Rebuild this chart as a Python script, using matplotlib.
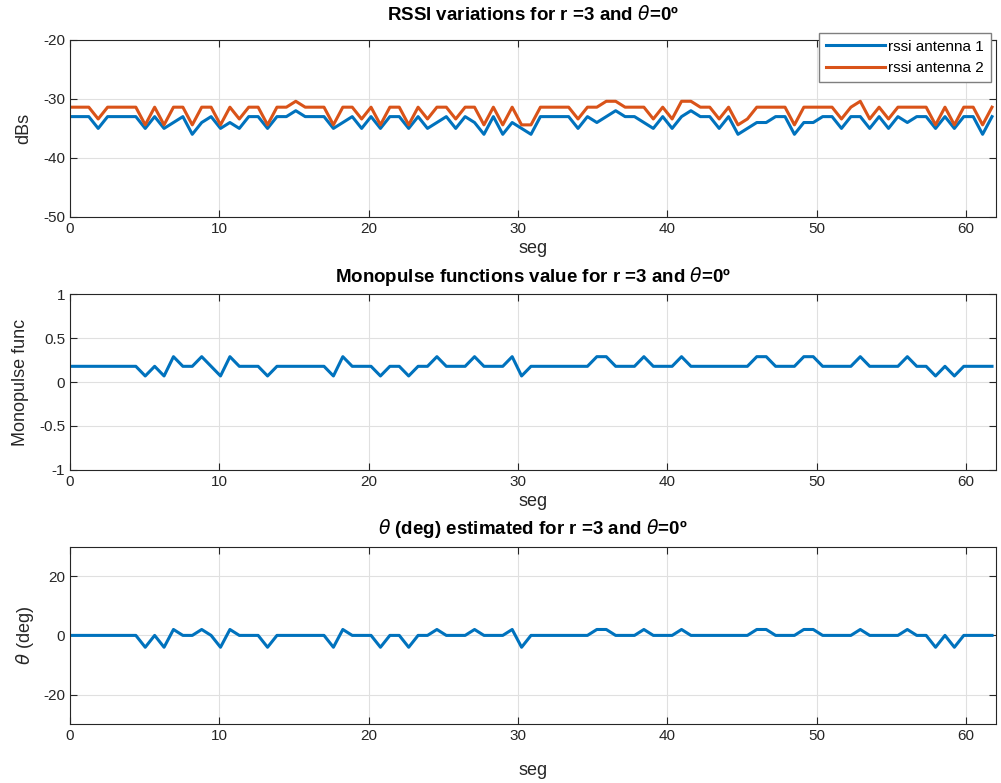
import numpy as np
import matplotlib
matplotlib.use('Agg')
import matplotlib.pyplot as plt
from matplotlib.ticker import FuncFormatter

plt.rcParams['font.family'] = ['Liberation Sans', 'DejaVu Sans']
plt.rcParams['mathtext.fontset'] = 'dejavusans'
plt.rcParams['axes.unicode_minus'] = False

# sample instants (one every 0.63 s)
seg = np.round(np.arange(99) * 0.63, 2)

rssi_ant1 = [-33, -33, -33, -35, -33, -33, -33, -33, -35, -33,
             -35, -34, -33, -36, -34, -33, -35, -34, -35, -33,
             -33, -35, -33, -33, -32, -33, -33, -33, -35, -34,
             -33, -35, -33, -35, -33, -33, -35, -33, -35, -34,
             -33, -35, -33, -34, -36, -33, -36, -34, -35, -36,
             -33, -33, -33, -33, -35, -33, -34, -33, -32, -33,
             -33, -34, -35, -33, -35, -33, -32, -33, -33, -35,
             -33, -36, -35, -34, -34, -33, -33, -36, -34, -34,
             -33, -33, -35, -33, -33, -35, -33, -35, -33, -34,
             -33, -33, -35, -33, -35, -33, -33, -36, -33]

rssi_ant2 = [-31.4, -31.4, -31.4, -33.4, -31.4, -31.4, -31.4, -31.4, -34.4, -31.4,
             -34.4, -31.4, -31.4, -34.4, -31.4, -31.4, -34.4, -31.4, -33.4, -31.4,
             -31.4, -34.4, -31.4, -31.4, -30.4, -31.4, -31.4, -31.4, -34.4, -31.4,
             -31.4, -33.4, -31.4, -34.4, -31.4, -31.4, -34.4, -31.4, -33.4, -31.4,
             -31.4, -33.4, -31.4, -31.4, -34.4, -31.4, -34.4, -31.4, -34.4, -34.4,
             -31.4, -31.4, -31.4, -31.4, -33.4, -31.4, -31.4, -30.4, -30.4, -31.4,
             -31.4, -31.4, -33.4, -31.4, -33.4, -30.4, -30.4, -31.4, -31.4, -33.4,
             -31.4, -34.4, -33.4, -31.4, -31.4, -31.4, -31.4, -34.4, -31.4, -31.4,
             -31.4, -31.4, -33.4, -31.4, -30.4, -33.4, -31.4, -33.4, -31.4, -31.4,
             -31.4, -31.4, -34.4, -31.4, -34.4, -31.4, -31.4, -34.4, -31.4]

monopulse = [0.18, 0.18, 0.18, 0.18, 0.18, 0.18, 0.18, 0.18, 0.07, 0.18,
             0.07, 0.29, 0.18, 0.18, 0.29, 0.18, 0.07, 0.29, 0.18, 0.18,
             0.18, 0.07, 0.18, 0.18, 0.18, 0.18, 0.18, 0.18, 0.07, 0.29,
             0.18, 0.18, 0.18, 0.07, 0.18, 0.18, 0.07, 0.18, 0.18, 0.29,
             0.18, 0.18, 0.18, 0.29, 0.18, 0.18, 0.18, 0.29, 0.07, 0.18,
             0.18, 0.18, 0.18, 0.18, 0.18, 0.18, 0.29, 0.29, 0.18, 0.18,
             0.18, 0.29, 0.18, 0.18, 0.18, 0.29, 0.18, 0.18, 0.18, 0.18,
             0.18, 0.18, 0.18, 0.29, 0.29, 0.18, 0.18, 0.18, 0.29, 0.29,
             0.18, 0.18, 0.18, 0.18, 0.29, 0.18, 0.18, 0.18, 0.18, 0.29,
             0.18, 0.18, 0.07, 0.18, 0.07, 0.18, 0.18, 0.18, 0.18]

theta_est = [0, 0, 0, 0, 0, 0, 0, 0, -4, 0,
             -4, 2, 0, 0, 2, 0, -4, 2, 0, 0,
             0, -4, 0, 0, 0, 0, 0, 0, -4, 2,
             0, 0, 0, -4, 0, 0, -4, 0, 0, 2,
             0, 0, 0, 2, 0, 0, 0, 2, -4, 0,
             0, 0, 0, 0, 0, 0, 2, 2, 0, 0,
             0, 2, 0, 0, 0, 2, 0, 0, 0, 0,
             0, 0, 0, 2, 2, 0, 0, 0, 2, 2,
             0, 0, 0, 0, 2, 0, 0, 0, 0, 2,
             0, 0, -4, 0, -4, 0, 0, 0, 0]

blue = '#0072BD'
orange = '#D95319'
axcol = '#262626'
tfs = 13.5   # title size
lfs = 13     # axis label size

fig = plt.figure(figsize=(10.01, 7.83), dpi=100)
left, width = 0.0699, 0.925
ax1 = fig.add_axes([left, 0.723, width, 0.226])
ax2 = fig.add_axes([left, 0.400, width, 0.224])
ax3 = fig.add_axes([left, 0.075, width, 0.227])


def style(ax):
    ax.set_xlim(0, 62)
    ax.set_xticks([0, 10, 20, 30, 40, 50, 60])
    ax.grid(True, color='#e0e0e0', linewidth=0.8)
    ax.set_axisbelow(True)
    ax.tick_params(direction='in', length=5, top=True, right=True,
                   labelsize=11, colors=axcol, labelcolor=axcol, width=0.8)
    for sp in ax.spines.values():
        sp.set_color(axcol)
        sp.set_linewidth(0.8)


fmt = FuncFormatter(lambda v, p: '%g' % v)

# RSSI per antenna
ax1.plot(seg, rssi_ant1, color=blue, lw=2.2, label='rssi antenna 1')
ax1.plot(seg, rssi_ant2, color=orange, lw=2.2, label='rssi antenna 2')
style(ax1)
ax1.set_ylim(-50, -20)
ax1.set_yticks([-50, -40, -30, -20])
ax1.set_title(r'RSSI variations for r =3 and $\theta$=0º', fontsize=tfs,
              fontweight='bold', color='black', pad=14)
ax1.set_xlabel('seg', fontsize=lfs, color=axcol)
ax1.xaxis.set_label_coords(0.5, -0.13)
ax1.set_ylabel('dBs', fontsize=lfs, color=axcol)
ax1.yaxis.set_label_coords(-0.041, 0.5)
leg = ax1.legend(loc='upper right', bbox_to_anchor=(0.9946, 1.04), fontsize=11,
                 fancybox=False, framealpha=1, edgecolor='#7f7f7f',
                 handlelength=3.9, borderpad=0.45, labelspacing=0.5,
                 handletextpad=0.2, borderaxespad=0)
leg.get_frame().set_linewidth(1.0)

# monopulse function
ax2.plot(seg, monopulse, color=blue, lw=2.2)
style(ax2)
ax2.set_ylim(-1, 1)
ax2.set_yticks([-1, -0.5, 0, 0.5, 1])
ax2.yaxis.set_major_formatter(fmt)
ax2.set_title(r'Monopulse functions value for r =3 and $\theta$=0º', fontsize=tfs,
              fontweight='bold', color='black', pad=9)
ax2.set_xlabel('seg', fontsize=lfs, color=axcol)
ax2.xaxis.set_label_coords(0.5, -0.13)
ax2.set_ylabel('Monopulse func', fontsize=lfs, color=axcol)
ax2.yaxis.set_label_coords(-0.044, 0.5)

# estimated angle
ax3.plot(seg, theta_est, color=blue, lw=2.2)
style(ax3)
ax3.set_ylim(-30, 30)
ax3.set_yticks([-20, 0, 20])
ax3.set_title(r'$\theta$ (deg) estimated for r =3 and $\theta$=0º', fontsize=tfs,
              fontweight='bold', color='black', pad=9)
ax3.set_xlabel('seg', fontsize=lfs, color=axcol)
ax3.xaxis.set_label_coords(0.5, -0.215)
ax3.set_ylabel(r'$\theta$ (deg)', fontsize=lfs, color=axcol)
ax3.yaxis.set_label_coords(-0.037, 0.5)

fig.savefig('out.png', dpi=100)
